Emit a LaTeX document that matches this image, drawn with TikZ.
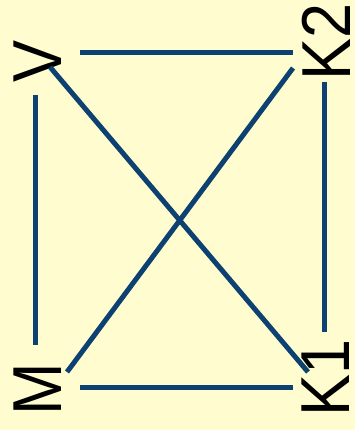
\documentclass[tikz,border=0pt]{standalone}
\usepackage{fontspec}
\setmainfont{Liberation Sans}
\definecolor{bgc}{HTML}{FFFCD0}
\definecolor{linec}{HTML}{0C4171}
\begin{document}
\begin{tikzpicture}[x=1pt,y=-1pt,
  lbl/.style={rotate=90,inner sep=0pt,font=\fontsize{63}{63}\selectfont,text=black},
  edge/.style={draw=linec,line width=5pt}]
\fill[bgc] (0,0) rectangle (355,430);
\useasboundingbox (0,0) rectangle (355,430);
\node[lbl] (V)  at (37.5,61)   {\scalebox{1}[1.1]{V}};
\node[lbl] (K2) at (326,42)    {\scalebox{1}[1.1]{K2}};
\node[lbl] (M)  at (37.5,389.5){\scalebox{1}[1.1]{M}};
\node[lbl] (K1) at (326,378)   {\scalebox{1}[1.1]{K1}};
\coordinate (vt) at (80,53);   \coordinate (k2t) at (293,53);
\coordinate (vl) at (35,95);   \coordinate (ml) at (35,345);
\coordinate (k2r) at (324,82); \coordinate (k1r) at (324,332);
\coordinate (mb) at (80,387);  \coordinate (k1b) at (293,387);
\coordinate (vd) at (50,67);   \coordinate (k1d) at (308,372);
\coordinate (md) at (67,372);  \coordinate (k2d) at (293,68);
\draw[edge] (vt) -- (k2t);
\draw[edge] (vl) -- (ml);
\draw[edge] (k2r) -- (k1r);
\draw[edge] (mb) -- (k1b);
\draw[edge] (vd) -- (k1d);
\draw[edge] (md) -- (k2d);
\end{tikzpicture}
\end{document}
